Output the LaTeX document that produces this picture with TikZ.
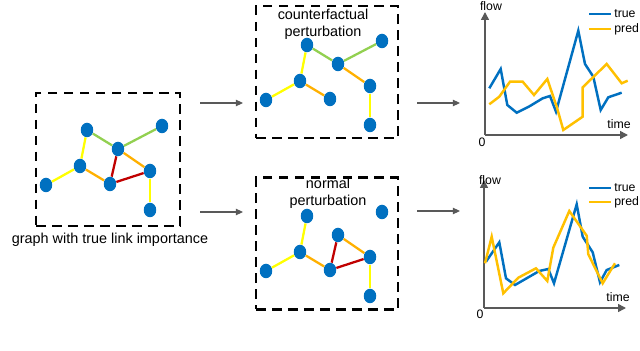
\documentclass[tikz,border=0pt]{standalone}
\usepackage{fontspec}
\setmainfont{Liberation Sans}
\usetikzlibrary{arrows.meta, shapes.geometric}
\definecolor{nodec}{HTML}{0070C0}
\definecolor{lkyellow}{HTML}{FFFF00}
\definecolor{lkorange}{HTML}{FFB000}
\definecolor{lkgreen}{HTML}{92D050}
\definecolor{lkred}{HTML}{C00000}
\definecolor{predc}{HTML}{FFC000}
\definecolor{axisc}{HTML}{595959}
\tikzset{
  vtx/.style={ellipse, fill=nodec, inner sep=0pt, minimum width=0.25cm, minimum height=0.29cm},
  lk/.style={line width=1.3pt},
  dbox/.style={draw=black, line width=1.4pt, dash pattern=on 5.5pt off 3.6pt, inner sep=0pt},
  lbl/.style={font=\fontsize{8.2}{9.6}\selectfont, align=center, inner sep=0pt},
  axlbl/.style={font=\fontsize{7}{8}\selectfont, inner sep=0pt},
  axline/.style={draw=axisc, line width=0.9pt, -{Triangle[length=4.5pt,width=4.5pt]}},
  flowarr/.style={draw=axisc, line width=0.6pt, -{Triangle[length=4pt,width=3.6pt]}},
  trace/.style={line width=1.4pt},
}

\begin{document}
\begin{tikzpicture}[x=0.02cm, y=-0.02cm]
\useasboundingbox (0,0) rectangle (640,351);

% ---------------- graphs ----------------
\newcommand{\linkgraph}[4]{% x shift, y shift, node prefix, edges
  \begin{scope}[shift={(#1,#2)}]
    \node[vtx] (#3a) at (87,130) {};
    \node[vtx] (#3b) at (162,126) {};
    \node[vtx] (#3c) at (118,149) {};
    \node[vtx] (#3d) at (80,166) {};
    \node[vtx] (#3e) at (150,171) {};
    \node[vtx] (#3f) at (46,185) {};
    \node[vtx] (#3g) at (110,184) {};
    \node[vtx] (#3h) at (150,210) {};
  \end{scope}
  \foreach \u/\v/\c in {#4} {
    \draw[lk, \c] (#3\u) -- (#3\v);
  }
}
\node[dbox, minimum width=2.88cm, minimum height=2.66cm] (gtrue) at (108,159.5) {};
\linkgraph{0}{0}{t}{a/c/lkgreen, b/c/lkgreen, a/d/lkyellow, d/f/lkyellow, d/g/lkorange, c/g/lkred, g/e/lkred, c/e/lkorange, e/h/lkyellow}
\node[lbl] (ltrue) at (110,240) {graph with true link importance};

\node[dbox, minimum width=2.84cm, minimum height=2.64cm] (gcf) at (327,72) {};
\linkgraph{220}{-85}{c}{a/c/lkgreen, b/c/lkgreen, a/d/lkyellow, d/f/lkyellow, d/g/lkorange, c/e/lkorange, e/h/lkyellow}
\node[lbl] (lcf) at (323,24) {counterfactual\\perturbation};

\node[dbox, minimum width=2.84cm, minimum height=2.64cm] (gnorm) at (327,243.5) {};
\linkgraph{220}{86}{n}{a/d/lkyellow, d/f/lkyellow, d/g/lkorange, c/g/lkred, g/e/lkred, c/e/lkorange, e/h/lkyellow}
\node[lbl] (lnorm) at (328,193) {normal\\perturbation};

% ---------------- arrows ----------------
\coordinate (p1s) at (200,103);
\coordinate (p1e) at (243,103);
\coordinate (p2s) at (200,212);
\coordinate (p2e) at (243,212);
\coordinate (q1s) at (417,103);
\coordinate (q1e) at (460,103);
\coordinate (q2s) at (417,211);
\coordinate (q2e) at (460,211);
\foreach \s/\e in {p1s/p1e, p2s/p2e, q1s/q1e, q2s/q2e} {
  \draw[flowarr] (\s) -- (\e);
}

% ---------------- charts ----------------
\coordinate (o1) at (485,135);
\coordinate (y1) at (485,12);
\coordinate (x1) at (628,135);
\draw[axline] (o1) -- (y1);
\draw[axline] (o1) -- (x1);
\node[axlbl] (fl1) at (491,6) {flow};
\node[axlbl] (ze1) at (482,142) {0};
\node[axlbl] (ti1) at (619,124) {time};
\draw[trace, nodec] (589,14) -- (611,14);
\node[axlbl, anchor=west] (tr1) at (614,14) {true};
\draw[trace, predc] (589,29) -- (611,29);
\node[axlbl, anchor=west] (pr1) at (614,29) {pred};
\draw[trace, nodec] (489.3,88.3) -- (500.7,69) -- (507.3,105) -- (516.7,112.7) -- (530,106) -- (542.7,98.3) -- (550,96) -- (556,111.7) -- (578.3,30.7) -- (585,64) -- (593.3,76.7) -- (600.7,110) -- (608.3,97.3) -- (621.7,92.7);
\draw[trace, predc] (489.3,104.3) -- (499.3,96.7) -- (510,81.7) -- (522.7,81.7) -- (534,95) -- (547.3,79) -- (556.7,106.7) -- (563.3,130) -- (582.7,116.7) -- (582.7,87.3) -- (606.7,64) -- (621.7,83.3) -- (627.7,80.7);

\coordinate (o2) at (484,308);
\coordinate (y2) at (484,180);
\coordinate (x2) at (626,308);
\draw[axline] (o2) -- (y2);
\draw[axline] (o2) -- (x2);
\node[axlbl] (fl2) at (490,180) {flow};
\node[axlbl] (ze2) at (480,314) {0};
\node[axlbl] (ti2) at (618,297) {time};
\draw[trace, nodec] (589,188) -- (611,188);
\node[axlbl, anchor=west] (tr2) at (614,188) {true};
\draw[trace, predc] (589,202) -- (611,202);
\node[axlbl, anchor=west] (pr2) at (614,202) {pred};
\draw[trace, nodec] (486,261.7) -- (499.3,242.3) -- (506,278.3) -- (515,285) -- (539.3,271) -- (548.3,269) -- (554,283.3) -- (576.7,204.3) -- (582.7,236.7) -- (592.7,252.3) -- (600,282.3) -- (606.7,270) -- (619.3,265);
\draw[trace, predc] (485,263.3) -- (491.7,236.7) -- (503.3,293.3) -- (518.3,277.7) -- (536,268.3) -- (547.3,281) -- (553.3,247.7) -- (569.3,211) -- (586.7,235.7) -- (588.3,254.3) -- (602.7,283.3) -- (615,263.3);

\end{tikzpicture}
\end{document}
